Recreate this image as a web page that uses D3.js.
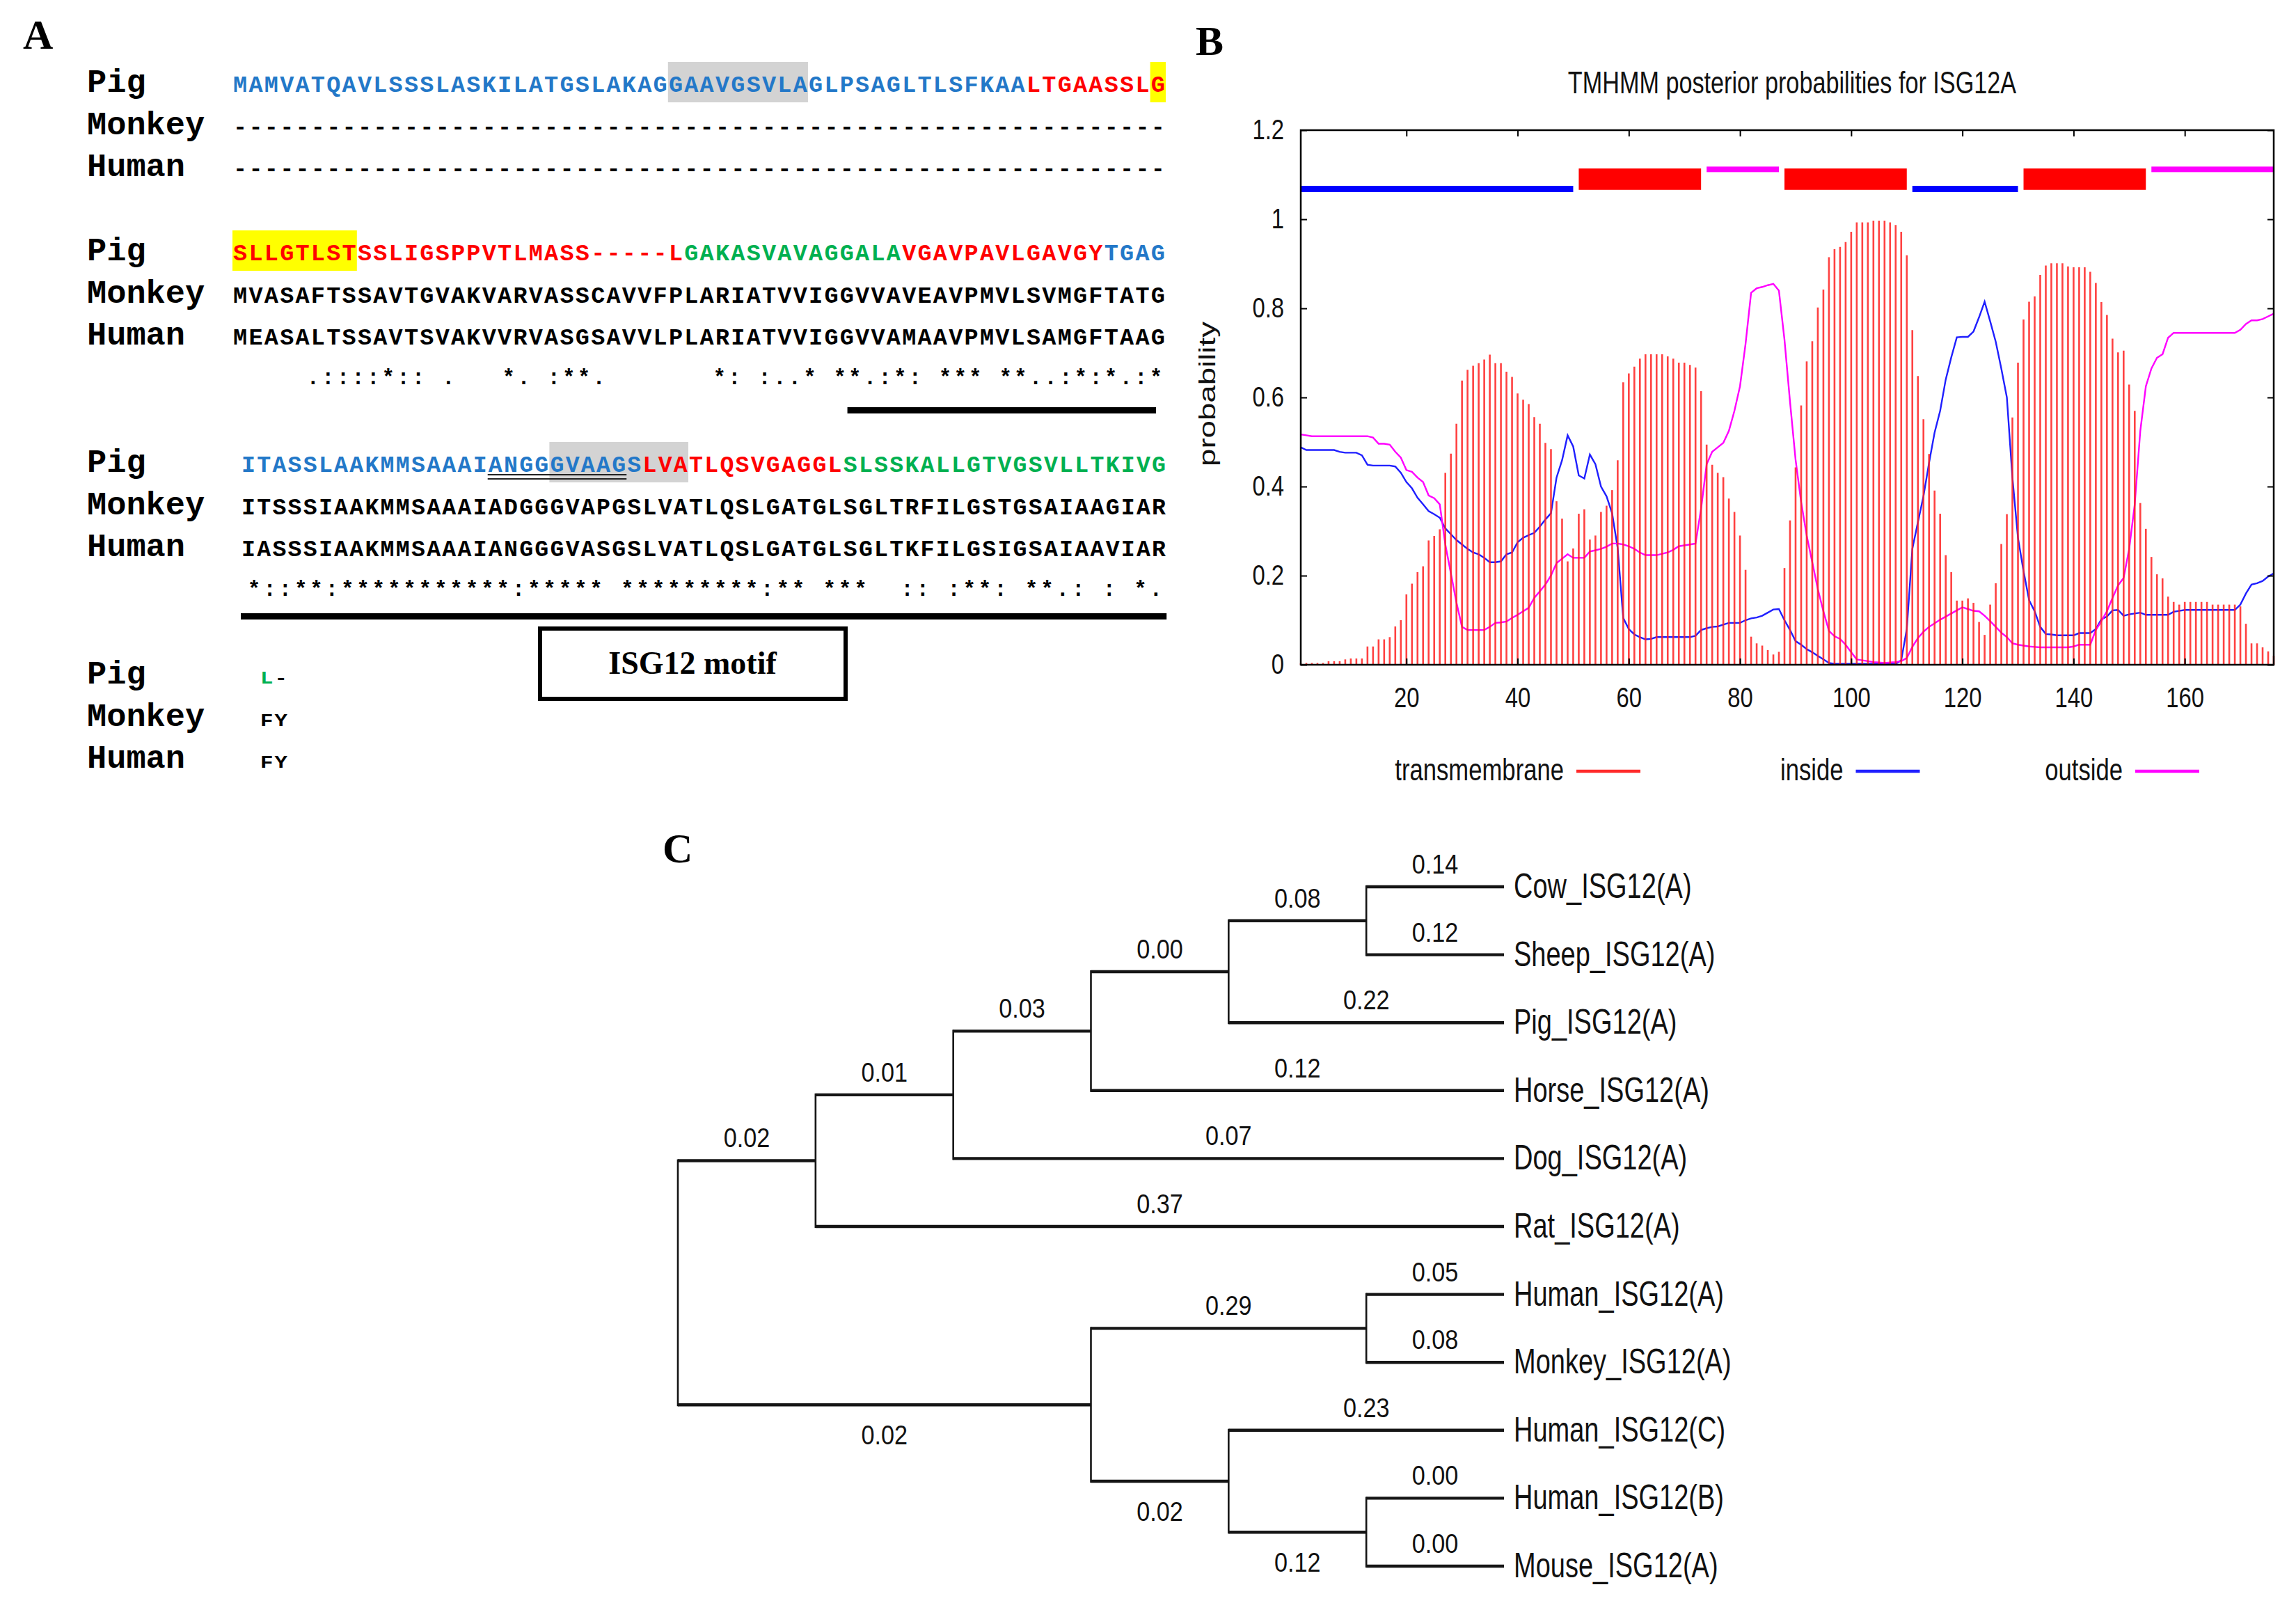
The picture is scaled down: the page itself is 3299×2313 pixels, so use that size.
<!DOCTYPE html>
<html><head><meta charset="utf-8">
<script src="https://cdn.jsdelivr.net/npm/d3@7"></script>
<style>body{margin:0;background:#fff}svg{display:block}</style>
</head><body>
<svg id="fig" width="3299" height="2313"></svg>
<script>
// ================= DATA =================
// Panel A: alignment (4 blocks each)
const seqRowNames = ["Pig", "Monkey", "Human"];
const pigBlocks = [
  "MAMVATQAVLSSSLASKILATGSLAKAGGAAVGSVLAGLPSAGLTLSFKAALTGAASSLG",
  "SLLGTLSTSSLIGSPPVTLMASS-----LGAKASVAVAGGALAVGAVPAVLGAVGYTGAG",
  "ITASSLAAKMMSAAAIANGGGVAAGSLVATLQSVGAGGLSLSSKALLGTVGSVLLTKIVG",
  "L-"
];
const monkeyBlocks = [
  "------------------------------------------------------------",
  "MVASAFTSSAVTGVAKVARVASSCAVVFPLARIATVVIGGVVAVEAVPMVLSVMGFTATG",
  "ITSSSIAAKMMSAAAIADGGGVAPGSLVATLQSLGATGLSGLTRFILGSTGSAIAAGIAR",
  "FY"
];
const humanBlocks = [
  "------------------------------------------------------------",
  "MEASALTSSAVTSVAKVVRVASGSAVVLPLARIATVVIGGVVAMAAVPMVLSAMGFTAAG",
  "IASSSIAAKMMSAAAIANGGGVASGSLVATLQSLGATGLSGLTKFILGSIGSAIAAVIAR",
  "FY"
];
const consensusBlocks = [
  "",
  "   .::::*:: .   *. :**.       *: :..* **.:*: *** **..:*:*.:*",
  "*::**:***********:***** *********:** ***  :: :**: **.: : *. ",
  ""
];
// Pig colour runs: [block, from, to, colour]
const pigRunBlock = [0, 0, 1, 1, 1, 1, 2, 2, 2, 3, 3];
const pigRunFrom  = [0, 51, 0, 29, 43, 56, 0, 26, 39, 0, 1];
const pigRunTo    = [50, 59, 28, 42, 55, 59, 25, 38, 59, 0, 1];
const pigRunColor = ["blue", "red", "red", "green", "red", "blue", "blue", "red", "green", "green", "black"];
// highlights [block, from, to]
const grayHighlights = [[0, 28, 36], [2, 20, 28]];
const yellowHighlights = [[0, 59, 59], [1, 0, 7]];
const doubleUnderline = [[2, 16, 24]];
const motifBars = [[1, 39, 59], [2, 0, 59]];
const motifLabel = "ISG12 motif";

// Panel B: TMHMM posterior probabilities, residues 1..176
const tmProb = [
0.003,0.004,0.004,0.004,0.004,0.008,0.008,0.008,0.012,0.014,
0.014,0.014,0.041,0.041,0.057,0.057,0.062,0.086,0.100,0.158,
0.182,0.208,0.221,0.279,0.289,0.304,0.431,0.474,0.541,0.638,
0.662,0.671,0.677,0.685,0.696,0.677,0.677,0.658,0.646,0.609,
0.595,0.585,0.556,0.541,0.498,0.484,0.367,0.328,0.232,0.261,
0.339,0.349,0.281,0.290,0.343,0.357,0.392,0.459,0.634,0.654,
0.669,0.687,0.697,0.697,0.697,0.697,0.692,0.687,0.678,0.678,
0.673,0.667,0.614,0.494,0.449,0.431,0.421,0.373,0.343,0.290,
0.213,0.063,0.048,0.043,0.033,0.023,0.029,0.217,0.324,0.443,
0.582,0.681,0.726,0.802,0.842,0.915,0.933,0.938,0.949,0.972,
0.993,0.993,0.993,0.997,0.997,0.997,0.993,0.987,0.972,0.919,
0.751,0.648,0.551,0.473,0.391,0.339,0.246,0.208,0.144,0.144,
0.149,0.139,0.096,0.067,0.135,0.183,0.271,0.338,0.555,0.678,
0.775,0.815,0.827,0.875,0.896,0.901,0.901,0.901,0.894,0.892,
0.892,0.892,0.882,0.857,0.814,0.785,0.732,0.701,0.705,0.629,
0.570,0.363,0.305,0.242,0.203,0.194,0.153,0.141,0.135,0.141,
0.141,0.141,0.141,0.141,0.135,0.135,0.135,0.135,0.135,0.131,
0.092,0.048,0.048,0.039,0.030,0.020];
const insideProb = [
0.488,0.482,0.482,0.482,0.482,0.482,0.482,0.478,0.476,0.476,
0.476,0.470,0.449,0.447,0.447,0.447,0.447,0.445,0.431,0.410,
0.396,0.375,0.360,0.345,0.338,0.330,0.306,0.293,0.280,0.270,
0.260,0.252,0.248,0.240,0.230,0.230,0.232,0.248,0.252,0.275,
0.285,0.291,0.296,0.310,0.326,0.340,0.420,0.459,0.515,0.490,
0.425,0.418,0.472,0.450,0.400,0.378,0.340,0.262,0.105,0.080,
0.068,0.062,0.057,0.058,0.062,0.062,0.062,0.062,0.062,0.062,
0.062,0.065,0.078,0.082,0.085,0.086,0.090,0.094,0.094,0.094,
0.100,0.104,0.106,0.110,0.117,0.124,0.125,0.100,0.078,0.053,
0.045,0.035,0.028,0.020,0.012,0.004,0.002,0.002,0.002,0.002,
0.002,0.002,0.002,0.002,0.002,0.002,0.002,0.002,0.010,0.080,
0.260,0.320,0.378,0.453,0.521,0.570,0.640,0.690,0.735,0.736,
0.736,0.748,0.780,0.815,0.771,0.725,0.665,0.600,0.420,0.285,
0.210,0.145,0.120,0.085,0.069,0.068,0.066,0.066,0.066,0.066,
0.071,0.071,0.071,0.080,0.102,0.108,0.122,0.123,0.110,0.113,
0.115,0.117,0.112,0.112,0.112,0.112,0.112,0.119,0.121,0.123,
0.123,0.123,0.123,0.123,0.123,0.123,0.123,0.123,0.123,0.135,
0.160,0.180,0.183,0.188,0.198,0.205];
const outsideProb = [
0.517,0.515,0.513,0.513,0.513,0.513,0.513,0.513,0.513,0.513,
0.513,0.513,0.513,0.510,0.496,0.496,0.494,0.478,0.465,0.437,
0.433,0.420,0.410,0.380,0.374,0.360,0.270,0.205,0.140,0.085,
0.078,0.078,0.078,0.078,0.085,0.094,0.095,0.097,0.105,0.112,
0.120,0.128,0.150,0.165,0.180,0.200,0.228,0.238,0.248,0.240,
0.240,0.240,0.254,0.257,0.260,0.265,0.272,0.272,0.270,0.266,
0.260,0.252,0.246,0.246,0.246,0.249,0.252,0.258,0.266,0.268,
0.270,0.272,0.350,0.450,0.478,0.488,0.498,0.525,0.570,0.625,
0.720,0.835,0.845,0.848,0.852,0.855,0.840,0.730,0.590,0.460,
0.365,0.290,0.230,0.170,0.120,0.076,0.064,0.058,0.045,0.028,
0.012,0.010,0.008,0.006,0.005,0.004,0.005,0.006,0.008,0.015,
0.040,0.060,0.074,0.085,0.093,0.101,0.108,0.115,0.122,0.129,
0.125,0.121,0.120,0.110,0.098,0.085,0.072,0.062,0.048,0.045,
0.043,0.041,0.040,0.039,0.039,0.039,0.039,0.039,0.039,0.041,
0.045,0.045,0.045,0.078,0.098,0.120,0.150,0.178,0.195,0.260,
0.360,0.525,0.625,0.665,0.689,0.697,0.734,0.745,0.745,0.745,
0.745,0.745,0.745,0.745,0.745,0.745,0.745,0.745,0.745,0.752,
0.765,0.773,0.773,0.776,0.782,0.788];
const topoStart = [1, 51, 74, 88, 111, 131, 154];
const topoEnd   = [50, 73, 87, 110, 130, 153, 176];
const topoType  = ["inside", "TMhelix", "outside", "TMhelix", "inside", "TMhelix", "outside"];
const xTicks = [20, 40, 60, 80, 100, 120, 140, 160];
const yTicks = [0, 0.2, 0.4, 0.6, 0.8, 1.0, 1.2];
const legendLabels = ["transmembrane", "inside", "outside"];
const chartTitle = "TMHMM posterior probabilities for ISG12A";
const yAxisLabel = "probability";

// Panel C: tree
const treeIds = ["root","u1","u2","u3","u4","u5","Cow_ISG12(A)","Sheep_ISG12(A)","Pig_ISG12(A)","Horse_ISG12(A)","Dog_ISG12(A)","Rat_ISG12(A)","l1","l2","Human_ISG12(A)","Monkey_ISG12(A)","l3","Human_ISG12(C)","l4","Human_ISG12(B)","Mouse_ISG12(A)"];
const treeParents = [null,"root","u1","u2","u3","u4","u5","u5","u4","u3","u2","u1","root","l1","l2","l2","l1","l3","l3","l4","l4"];
const branchLengths = ["","0.02","0.01","0.03","0.00","0.08","0.14","0.12","0.22","0.12","0.07","0.37","0.02","0.29","0.05","0.08","0.02","0.23","0.12","0.00","0.00"];

// ================= DRAWING =================
const MONO = "'Courier New','Liberation Mono',monospace";
const SANS = "Arial,'Liberation Sans',Helvetica,sans-serif";
const SERIF = "'Times New Roman','Liberation Serif',serif";
const svg = d3.select("#fig");
svg.append("rect").attr("width", 3299).attr("height", 2313).attr("fill", "#fff");

function squeeze(sel, f) {
  sel.each(function () {
    const w = this.getComputedTextLength();
    d3.select(this).attr("textLength", w * f).attr("lengthAdjust", "spacingAndGlyphs");
  });
}

// Panel labels
[["A", 33, 70], ["B", 1718, 79], ["C", 952, 1239]].forEach(([t, x, y]) => {
  svg.append("text").attr("x", x).attr("y", y).attr("font-family", SERIF)
    .attr("font-weight", "bold").attr("font-size", 60).text(t);
});

// ---------- Panel A ----------
const seqColors = { blue: "#2378c8", red: "#ff0000", green: "#00b050", black: "#000" };
const blockLayout = [
  { y: 132, x0: 334, cell: 22.35, fs: 33 },
  { y: 374, x0: 334, cell: 22.35, fs: 33 },
  { y: 678, x0: 346, cell: 22.17, fs: 33 },
  { y: 982, x0: 373, cell: 20.5, fs: 26 }
];
const consLayout = [null, { x0: 374, cell: 21.63 }, { x0: 354, cell: 22.34 }, null];
const rowOffsets = [0, 61, 121];
const gA = svg.append("g");
const rowsData = [pigBlocks, monkeyBlocks, humanBlocks];

function pigColor(bi, i) {
  for (let k = 0; k < pigRunBlock.length; k++) {
    if (pigRunBlock[k] === bi && i >= pigRunFrom[k] && i <= pigRunTo[k]) return seqColors[pigRunColor[k]];
  }
  return "#000";
}

pigBlocks.forEach((_, bi) => {
  const L = blockLayout[bi];
  const xb = d3.scaleBand().domain(d3.range(60)).range([L.x0, L.x0 + 60 * L.cell]);
  const bw = xb.bandwidth();
  grayHighlights.filter(h => h[0] === bi).forEach(h => {
    gA.append("rect").attr("x", xb(h[1])).attr("width", xb(h[2]) + bw - xb(h[1]))
      .attr("y", L.y - 43).attr("height", 58).attr("fill", "#d3d3d3");
  });
  yellowHighlights.filter(h => h[0] === bi).forEach(h => {
    gA.append("rect").attr("x", xb(h[1])).attr("width", xb(h[2]) + bw - xb(h[1]))
      .attr("y", L.y - 43).attr("height", 58).attr("fill", "#ffff00");
  });
  rowsData.forEach((rows, ri) => {
    const y = L.y + rowOffsets[ri];
    gA.append("text").attr("x", 125).attr("y", y).attr("font-family", MONO)
      .attr("font-weight", "bold").attr("font-size", 47).text(seqRowNames[ri]);
    const chars = rows[bi].split("").map((c, i) => ({ c, i }));
    gA.selectAll(null).data(chars).join("text")
      .attr("x", d => xb(d.i) + bw / 2).attr("y", y)
      .attr("text-anchor", "middle").attr("font-family", MONO).attr("font-weight", "bold")
      .attr("font-size", L.fs)
      .attr("textLength", bw * 0.9).attr("lengthAdjust", "spacingAndGlyphs")
      .attr("fill", d => ri === 0 ? pigColor(bi, d.i) : "#000")
      .text(d => d.c);
  });
  doubleUnderline.filter(h => h[0] === bi).forEach(h => {
    [4, 10].forEach(dy => {
      gA.append("line").attr("x1", xb(h[1])).attr("x2", xb(h[2]) + bw)
        .attr("y1", L.y + dy).attr("y2", L.y + dy).attr("stroke", "#222").attr("stroke-width", 2.2);
    });
  });
  let xc = null;
  if (consLayout[bi]) {
    const C = consLayout[bi];
    xc = d3.scaleBand().domain(d3.range(60)).range([C.x0, C.x0 + 60 * C.cell]);
    const cons = consensusBlocks[bi].split("").map((c, i) => ({ c, i })).filter(d => d.c !== " ");
    gA.selectAll(null).data(cons).join("text")
      .attr("x", d => xc(d.i) + xc.bandwidth() / 2).attr("y", L.y + 178)
      .attr("text-anchor", "middle").attr("font-family", MONO).attr("font-weight", "bold")
      .attr("font-size", 31).text(d => d.c);
  }
  motifBars.filter(h => h[0] === bi).forEach(h => {
    const sc = bi === 1 ? xc : xb;
    gA.append("rect").attr("x", sc(h[1])).attr("width", sc(h[2]) + sc.bandwidth() * (bi === 1 ? 0.5 : 1) - sc(h[1]))
      .attr("y", L.y + (bi === 1 ? 211 : 203)).attr("height", 9).attr("fill", "#000");
  });
});
// ISG12 motif box
gA.append("rect").attr("x", 776).attr("y", 903).attr("width", 439).attr("height", 101)
  .attr("fill", "#fff").attr("stroke", "#000").attr("stroke-width", 6);
gA.append("text").attr("x", 995).attr("y", 968).attr("text-anchor", "middle")
  .attr("font-family", SERIF).attr("font-weight", "bold").attr("font-size", 46).text(motifLabel);

// ---------- Panel B ----------
const gB = svg.append("g");
const residues = d3.range(1, tmProb.length + 1);
const x = d3.scaleLinear().domain([1, 176]).range([1869, 3267]);
const y = d3.scaleLinear().domain([0, 1.2]).range([955, 187]);

gB.append("text").attr("x", 2575).attr("y", 134).attr("text-anchor", "middle")
  .attr("font-family", SANS).attr("font-size", 45).attr("fill", "#111").text(chartTitle).call(squeeze, 0.76);
gB.append("text").attr("transform", "translate(1746,566) rotate(-90)").attr("text-anchor", "middle")
  .attr("font-family", SANS).attr("font-size", 34).attr("fill", "#111")
  .attr("textLength", 208).attr("lengthAdjust", "spacingAndGlyphs").text(yAxisLabel);

// lines
const lineGen = d3.line().x((d, i) => x(residues[i])).y(d => y(d));
gB.append("path").datum(insideProb).attr("d", lineGen).attr("fill", "none")
  .attr("stroke", "#1f1fff").attr("stroke-width", 2.4);
gB.append("path").datum(outsideProb).attr("d", lineGen).attr("fill", "none")
  .attr("stroke", "#ff00ff").attr("stroke-width", 2.4);
// TM bars (impulses)
gB.selectAll(null).data(tmProb).join("line")
  .attr("x1", (d, i) => x(residues[i])).attr("x2", (d, i) => x(residues[i]))
  .attr("y1", y(0)).attr("y2", d => y(d))
  .attr("stroke", "#ff2020").attr("stroke-opacity", 0.85).attr("stroke-width", 2.6);

// topology
const topo = topoStart.map((s, i) => ({ s, e: topoEnd[i], t: topoType[i] }));
gB.selectAll(null).data(topo).join("rect")
  .attr("x", d => x(d.s)).attr("width", d => x(d.e) - x(d.s))
  .attr("y", d => d.t === "TMhelix" ? y(1.114) : d.t === "inside" ? y(1.068) - 4.5 : y(1.112) - 4)
  .attr("height", d => d.t === "TMhelix" ? y(1.066) - y(1.114) : d.t === "inside" ? 9 : 8)
  .attr("fill", d => d.t === "TMhelix" ? "#ff0000" : d.t === "inside" ? "#0000ff" : "#ff00ff");

// axes / frame
const yFmt = d3.format("~g");
const axL = gB.append("g").attr("transform", "translate(1869,0)")
  .call(d3.axisLeft(y).tickValues(yTicks).tickSize(-9).tickPadding(24).tickFormat(yFmt));
const axR = gB.append("g").attr("transform", "translate(3267,0)")
  .call(d3.axisRight(y).tickValues(yTicks).tickSize(-9).tickFormat(""));
const axT = gB.append("g").attr("transform", "translate(0,187)")
  .call(d3.axisTop(x).tickValues(xTicks).tickSize(-9).tickFormat(""));
const axB = gB.append("g").attr("transform", "translate(0,955)")
  .call(d3.axisBottom(x).tickValues(xTicks).tickSize(-9).tickPadding(33));
[axL, axR, axT, axB].forEach(a => {
  a.select(".domain").remove();
  a.selectAll("line").attr("stroke", "#000").attr("stroke-width", 2);
  a.selectAll("text").attr("font-family", SANS).attr("font-size", 40).attr("fill", "#111");
});
axL.selectAll("text").call(squeeze, 0.82);
axB.selectAll("text").call(squeeze, 0.82);
gB.append("rect").attr("x", 1869).attr("y", 187).attr("width", 3267 - 1869).attr("height", 955 - 187)
  .attr("fill", "none").attr("stroke", "#000").attr("stroke-width", 2.5);

// legend
const legendColors = ["#ff2a2a", "#2020ff", "#ff00ff"];
legendLabels.forEach((lab, i) => {
  const lx = 2265 + 401.5 * i;
  gB.append("text").attr("x", lx - 18).attr("y", 1121).attr("text-anchor", "end")
    .attr("font-family", SANS).attr("font-size", 45).attr("fill", "#111").text(lab).call(squeeze, 0.77);
  gB.append("line").attr("x1", lx).attr("x2", lx + 92).attr("y1", 1108).attr("y2", 1108)
    .attr("stroke", legendColors[i]).attr("stroke-width", 4.5);
});

// ---------- Panel C ----------
const gC = svg.append("g");
const treeTable = treeIds.map((id, i) => ({ id, parent: treeParents[i], len: branchLengths[i] }));
const root = d3.stratify().id(d => d.id).parentId(d => d.parent)(treeTable);
const nLeaves = root.leaves().length;
const leafSpan = 2250 - 1274;               // first to last leaf
const clusterH = leafSpan * nLeaves / (nLeaves - 1); // cluster pads half a step each side
d3.cluster().size([clusterH, 2161 - 974]).separation(() => 1)(root);
const TX = 974, TY = 1274 - clusterH / (2 * nLeaves);
const nodes = root.descendants();
// horizontal branches
nodes.filter(n => n.parent).forEach(n => {
  gC.append("line").attr("x1", TX + n.parent.y).attr("x2", TX + n.y)
    .attr("y1", TY + n.x).attr("y2", TY + n.x).attr("stroke", "#151515").attr("stroke-width", 4.4);
});
// vertical connectors
nodes.filter(n => n.children).forEach(n => {
  const ys = n.children.map(c => c.x);
  gC.append("line").attr("x1", TX + n.y).attr("x2", TX + n.y)
    .attr("y1", TY + d3.min(ys) - 2).attr("y2", TY + d3.max(ys) + 2)
    .attr("stroke", "#151515").attr("stroke-width", 2.6);
});
// branch length labels
nodes.filter(n => n.parent).forEach(n => {
  const below = n.children && n.parent.children.indexOf(n) > 0;
  gC.append("text").attr("x", TX + (n.parent.y + n.y) / 2)
    .attr("y", TY + n.x + (below ? 57 : -19)).attr("text-anchor", "middle")
    .attr("font-family", SANS).attr("font-size", 38).attr("fill", "#111")
    .text(n.data.len).call(squeeze, 0.9);
});
// leaf labels
root.leaves().forEach(n => {
  gC.append("text").attr("x", 2175).attr("y", TY + n.x + 16)
    .attr("font-family", SANS).attr("font-size", 50).attr("fill", "#111")
    .text(n.data.id).call(squeeze, 0.76);
});
</script>
</body></html>
